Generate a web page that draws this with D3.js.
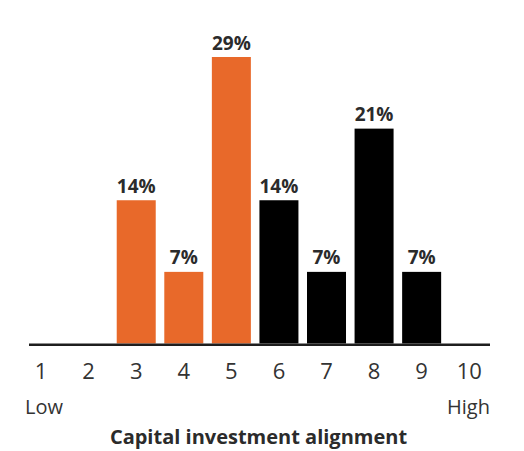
<!DOCTYPE html>
<html>
<head>
<meta charset="utf-8">
<script src="https://cdn.jsdelivr.net/npm/d3@7"></script>
<style>
  html, body { margin: 0; padding: 0; background: #fff; }
  svg { display: block; font-family: "Open Sans", "Noto Sans", sans-serif; }
</style>
</head>
<body>
<svg id="chart" width="524" height="451"></svg>
<script>
// Alignment score on a 1–10 scale and the number of respondents at each score
const scores = [1, 2, 3, 4, 5, 6, 7, 8, 9, 10];
const respondents = [0, 0, 2, 1, 4, 2, 1, 3, 1, 0];
const totalRespondents = 14;
const lowLabel = "Low";
const highLabel = "High";
const axisTitle = "Capital investment alignment";

const shares = respondents.map(c => c / totalRespondents * 100);
const data = scores.map((s, i) => ({ score: s, share: shares[i] }));

const svg = d3.select("#chart");
const baseline = 343.5;

const x = d3.scaleBand()
  .domain(scores)
  .range([17.3, 493])
  .paddingInner(0.18)
  .paddingOuter(0.09);

const y = d3.scaleLinear()
  .domain([0, d3.max(shares)])
  .range([baseline, 57]);

// scores up to 5 in orange, above 5 in black
const color = s => (s <= 5 ? "#e8692a" : "#000000");

const bars = data.filter(d => d.share > 0);

svg.append("g")
  .selectAll("rect")
  .data(bars)
  .join("rect")
  .attr("x", d => x(d.score))
  .attr("y", d => y(d.share))
  .attr("width", x.bandwidth())
  .attr("height", d => y(0) - y(d.share))
  .attr("fill", d => color(d.score));

svg.append("g")
  .selectAll("text")
  .data(bars)
  .join("text")
  .attr("x", d => x(d.score) + x.bandwidth() / 2)
  .attr("y", d => y(d.share) - 7.5)
  .attr("text-anchor", "middle")
  .attr("font-size", 19)
  .attr("font-weight", 700)
  .attr("fill", "#2b2b2b")
  .text(d => d3.format(".0f")(d.share) + "%");

// baseline
svg.append("line")
  .attr("x1", 29).attr("x2", 490)
  .attr("y1", baseline + 1.2).attr("y2", baseline + 1.2)
  .attr("stroke", "#1e1e1e")
  .attr("stroke-width", 2.5);

// score labels
const axis = d3.axisBottom(x).tickSize(0).tickPadding(0);
const gAxis = svg.append("g")
  .attr("transform", `translate(0, ${baseline})`)
  .call(axis);
gAxis.select(".domain").remove();
gAxis.selectAll("text")
  .attr("dy", null)
  .attr("y", 35.5)
  .attr("font-family", "'Open Sans', sans-serif")
  .attr("font-size", 22)
  .attr("font-weight", 400)
  .attr("fill", "#333333");

svg.append("text")
  .attr("x", 25).attr("y", 414)
  .attr("font-size", 20)
  .attr("font-weight", 400)
  .attr("fill", "#333333")
  .text(lowLabel);

svg.append("text")
  .attr("x", 490).attr("y", 414)
  .attr("text-anchor", "end")
  .attr("font-size", 20)
  .attr("font-weight", 400)
  .attr("fill", "#333333")
  .text(highLabel);

svg.append("text")
  .attr("x", 258.5).attr("y", 443.5)
  .attr("text-anchor", "middle")
  .attr("font-size", 20)
  .attr("font-weight", 700)
  .attr("fill", "#2b2b2b")
  .text(axisTitle);
</script>
</body>
</html>
